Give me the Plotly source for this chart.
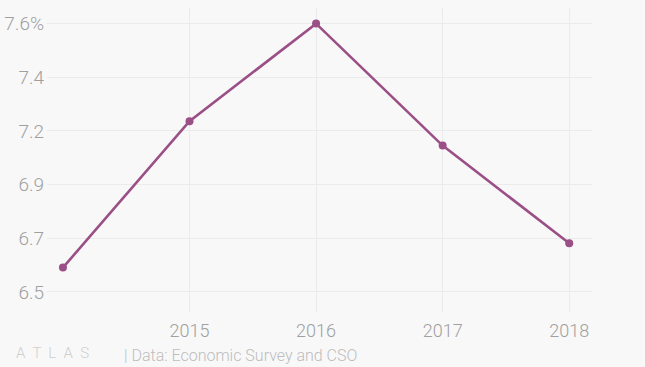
import plotly.graph_objects as go

years = [2014, 2015, 2016, 2017, 2018]
growth = [6.6, 7.2, 7.6, 7.1, 6.7]
x_tick_vals = [2015, 2016, 2017, 2018]
x_tick_text = ["2015", "2016", "2017", "2018"]
y_tick_vals = [6.5, 6.72, 6.94, 7.16, 7.38, 7.6]
y_tick_text = ["6.5", "6.7", "6.9", "7.2", "7.4", "7.6%"]

line_color = "#9a4f86"
bg = "#f8f8f8"
grid = "#ebebeb"
tick_color = "#a0a0a0"

W, H = 645, 367
ML, MR, MT, MB = 47, 53, 8, 55

fig = go.Figure()
fig.add_trace(go.Scatter(
    x=years, y=growth, mode="lines+markers",
    line=dict(color=line_color, width=2.6),
    marker=dict(color=line_color, size=8),
    hoverinfo="x+y", showlegend=False,
))

fig.update_layout(
    width=W, height=H,
    paper_bgcolor=bg, plot_bgcolor=bg,
    margin=dict(l=ML, r=MR, t=MT, b=MB),
    font=dict(family="Roboto", color=tick_color),
    xaxis=dict(
        range=[2013.874, 2018.18],
        tickvals=x_tick_vals, ticktext=x_tick_text,
        showgrid=True, gridcolor=grid, gridwidth=1,
        zeroline=False, showline=False, ticks="",
        tickfont=dict(size=18, color=tick_color, family="Roboto", weight=300),
        ticklabelstandoff=6, automargin=False,
    ),
    yaxis=dict(
        range=[6.418, 7.664],
        tickvals=y_tick_vals, ticktext=y_tick_text,
        showgrid=True, gridcolor=grid, gridwidth=1,
        zeroline=False, showline=False, ticks="",
        tickfont=dict(size=19, color=tick_color, family="Roboto", weight=300),
        ticklabelstandoff=2, automargin=False,
    ),
)

pw = W - ML - MR
ph = H - MT - MB
def px(xp):
    return (xp - ML) / pw
def py(yp):
    return (H - MB - yp) / ph

fig.add_annotation(text="A  T  L  A  S", x=px(14), y=py(353), xref="paper", yref="paper",
                   xanchor="left", yanchor="middle", showarrow=False,
                   font=dict(size=15, color="#cfcfcf", family="Roboto", weight=300))
fig.add_annotation(text="| Data: Economic Survey and CSO", x=px(122), y=py(355),
                   xref="paper", yref="paper", xanchor="left", yanchor="middle",
                   showarrow=False,
                   font=dict(size=16, color="#bdbdbd", family="Roboto", weight=300))

fig.write_html("out.html", config={"displayModeBar": False},
               post_script="document.body.style.margin='0';document.body.style.background='%s';" % bg)
